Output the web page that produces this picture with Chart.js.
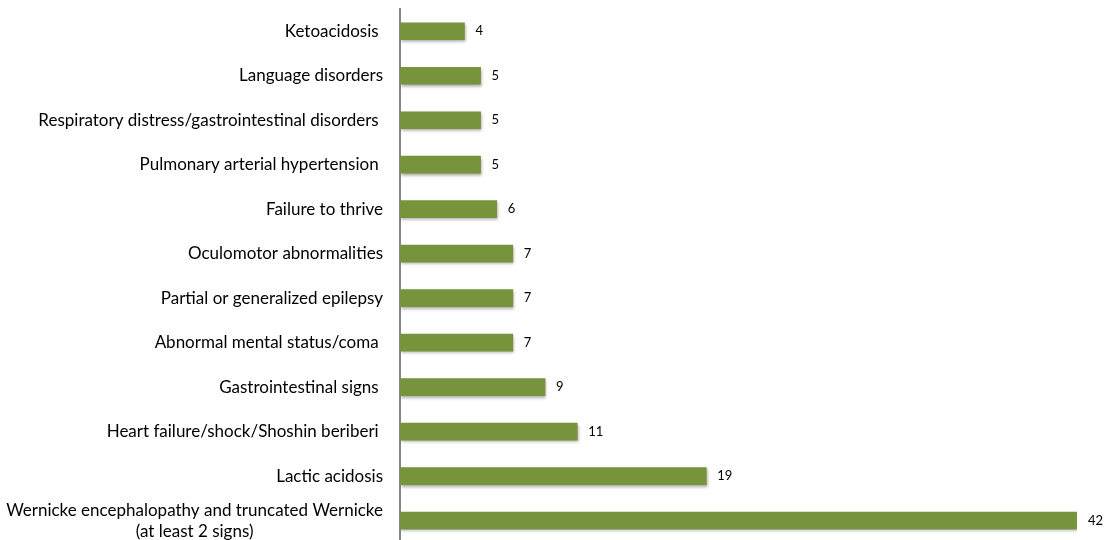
<!DOCTYPE html>
<html>
<head>
<meta charset="utf-8">
<script src="https://cdn.jsdelivr.net/npm/chart.js@4"></script>
<style>
html,body{margin:0;padding:0;background:#fff;overflow:hidden;}
#wrap{position:relative;width:1109px;height:550px;}
</style>
</head>
<body>
<div id="wrap"><canvas id="c"></canvas></div>
<script>
const categories = [
  "Ketoacidosis ",
  "Language disorders",
  "Respiratory distress/gastrointestinal disorders ",
  "Pulmonary arterial hypertension ",
  "Failure to thrive",
  "Oculomotor abnormalities",
  "Partial or generalized epilepsy",
  "Abnormal mental status/coma ",
  "Gastrointestinal signs ",
  "Heart failure/shock/Shoshin beriberi ",
  "Lactic acidosis",
  ["Wernicke encephalopathy and truncated Wernicke", "(at least 2 signs)"]
];
const values = [4, 5, 5, 5, 6, 7, 7, 7, 9, 11, 19, 42];

const labelFont = '17px Lato';
const valueFont = '13px Lato';

const shadowPlugin = {
  id: 'shadow',
  beforeDatasetsDraw(chart) {
    const ctx = chart.ctx;
    ctx.save();
    ctx.shadowColor = 'rgba(0,0,0,0.35)';
    ctx.shadowBlur = 3;
    ctx.shadowOffsetX = 1;
    ctx.shadowOffsetY = 2;
  },
  afterDatasetsDraw(chart) {
    chart.ctx.restore();
  }
};

const labelPlugin = {
  id: 'labels',
  afterDraw(chart) {
    const ctx = chart.ctx;
    const y = chart.scales.y;
    const meta = chart.getDatasetMeta(0);
    ctx.save();
    ctx.fillStyle = '#000';
    ctx.textBaseline = 'middle';
    ctx.font = labelFont;
    const rightX = y.right - 17;
    categories.forEach((cat, i) => {
      const py = y.getPixelForTick(i);
      if (Array.isArray(cat)) {
        const w0 = ctx.measureText(cat[0]).width;
        const cx = rightX - w0 / 2;
        const lh = 21;
        const startY = py - lh * (cat.length - 1) / 2;
        ctx.textAlign = 'center';
        cat.forEach((line, k) => ctx.fillText(line, cx, startY + k * lh));
      } else {
        ctx.textAlign = 'right';
        ctx.fillText(cat, rightX, py);
      }
    });
    ctx.font = valueFont;
    ctx.textAlign = 'left';
    meta.data.forEach((bar, i) => {
      ctx.fillText(String(values[i]), bar.x + 11, bar.y);
    });
    ctx.restore();
  }
};

new Chart(document.getElementById('c'), {
  type: 'bar',
  data: {
    labels: categories,
    datasets: [{
      data: values,
      backgroundColor: '#77933C',
      borderWidth: 0,
      barThickness: 17
    }]
  },
  options: {
    indexAxis: 'y',
    responsive: true,
    maintainAspectRatio: false,
    animation: false,
    layout: { padding: { left: 0, right: 32, top: 9, bottom: 0 } },
    plugins: {
      legend: { display: false },
      tooltip: { enabled: false }
    },
    scales: {
      x: {
        display: false,
        min: 0,
        max: 42
      },
      y: {
        afterFit(scale) { scale.width = 400; },
        grid: { display: false, drawTicks: false },
        border: { display: true, color: '#868686', width: 2 },
        ticks: { callback: () => '', padding: 0 }
      }
    }
  },
  plugins: [shadowPlugin, labelPlugin]
});
</script>
</body>
</html>
